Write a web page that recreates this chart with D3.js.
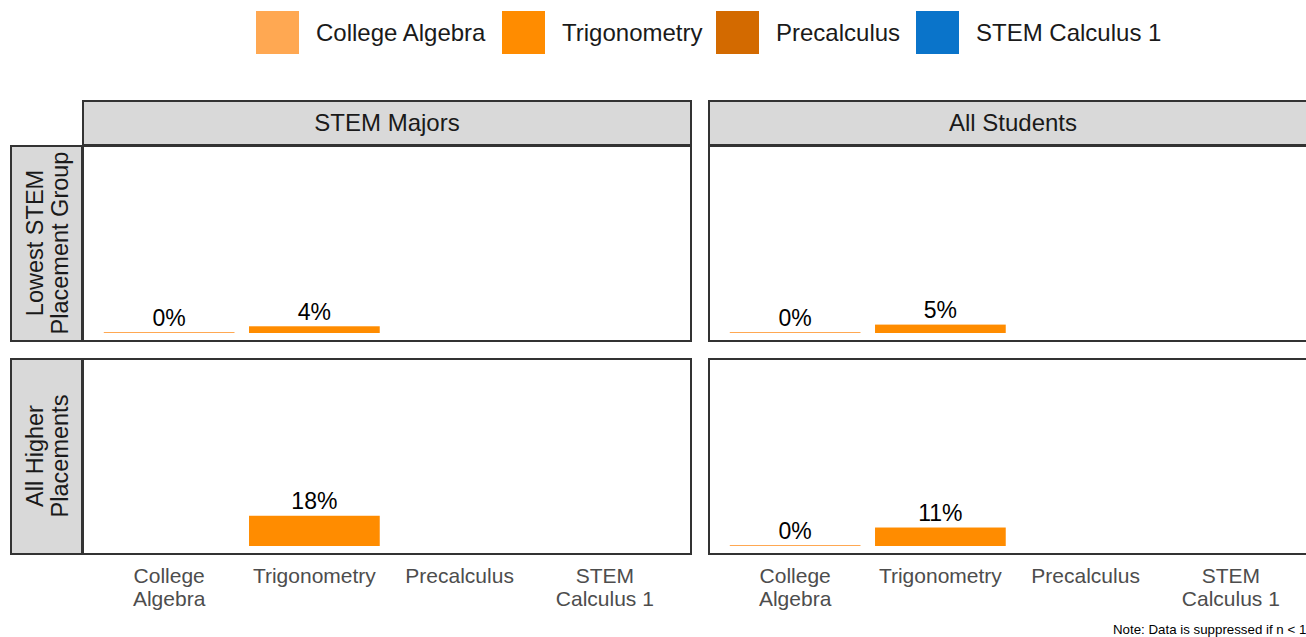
<!DOCTYPE html>
<html><head><meta charset="utf-8">
<script src="https://cdn.jsdelivr.net/npm/d3@7"></script>
<style>body{margin:0;background:#fff;overflow:hidden}svg{display:block;font-family:"Liberation Sans",Arial,sans-serif}</style>
</head><body><svg id="c" width="1306" height="637"></svg>
<script>
const courses = ["College Algebra","Trigonometry","Precalculus","STEM Calculus 1"];
const courseLabels = [["College","Algebra"],["Trigonometry"],["Precalculus"],["STEM","Calculus 1"]];
const colors = ["#FFA852","#FF8C00","#D36A00","#0A74CA"];
const columns = ["STEM Majors","All Students"];
const rows = [["Lowest STEM","Placement Group"],["All Higher","Placements"]];
// values per [row][column][course]; null = suppressed
const lowestStem = [0,4,null,null];
const lowestAll = [0,5,null,null];
const higherStem = [null,18,null,null];
const higherAll = [0,11,null,null];
const values = [[lowestStem,lowestAll],[higherStem,higherAll]];
const note = "Note: Data is suppressed if n < 10";

const svg = d3.select("#c");
const colX = [82,708], panelW = 610;
const rowY = [145,358], panelH = 196;
const stripTop = 100, stripLeft = 10;

// legend
const legX = [256,502,716,916];
const leg = svg.append("g");
courses.forEach((c,i)=>{
  leg.append("rect").attr("x",legX[i]).attr("y",11).attr("width",43).attr("height",43).attr("fill",colors[i]);
  leg.append("text").attr("x",legX[i]+60).attr("y",41).attr("font-size",24).attr("fill","#1a1a1a").text(c);
});

const x = d3.scaleBand().domain(courses).range([0,panelW]).paddingInner(0.1).paddingOuter(0.15);
const bw = x.bandwidth();
const cx = c => x(c) + bw/2;
const y = d3.scaleLinear().domain([0,100]).range([188,20]);

// column strips
columns.forEach((col,ci)=>{
  svg.append("rect").attr("x",colX[ci]+1).attr("y",stripTop+1).attr("width",panelW-2).attr("height",rowY[0]-stripTop-1)
    .attr("fill","#d9d9d9").attr("stroke","#333").attr("stroke-width",2);
  svg.append("text").attr("x",colX[ci]+panelW/2).attr("y",stripTop+31).attr("text-anchor","middle")
    .attr("font-size",24).attr("fill","#1a1a1a").text(col);
});
// row strips
rows.forEach((r,ri)=>{
  svg.append("rect").attr("x",stripLeft+1).attr("y",rowY[ri]+1).attr("width",colX[0]-stripLeft-1).attr("height",panelH-1)
    .attr("fill","#d9d9d9").attr("stroke","#333").attr("stroke-width",2);
  const t = svg.append("text").attr("transform",`translate(${(stripLeft+colX[0])/2+1},${rowY[ri]+panelH/2}) rotate(-90)`)
    .attr("text-anchor","middle").attr("font-size",23.5).attr("fill","#1a1a1a");
  r.forEach((line,li)=>t.append("tspan").attr("x",0).attr("y",(li-(r.length-1)/2)*25+8).text(line));
});

// panels
rows.forEach((r,ri)=>{
  columns.forEach((col,ci)=>{
    const g = svg.append("g").attr("transform",`translate(${colX[ci]},${rowY[ri]})`);
    g.append("rect").attr("x",1).attr("y",1).attr("width",panelW-2).attr("height",panelH-1)
      .attr("fill","#fff").attr("stroke","#333").attr("stroke-width",2);
    const vals = values[ri][ci];
    vals.forEach((v,i)=>{
      if(v===null) return;
      const c = courses[i];
      const y0 = y(0), y1 = y(v);
      const h = Math.max(y0-y1,1);
      g.append("rect").attr("x",x(c)).attr("y",y0-h).attr("width",bw).attr("height",h).attr("fill",colors[i]);
      g.append("text").attr("x",cx(c)).attr("y",y0-h-6.5).attr("text-anchor","middle")
        .attr("font-size",23).attr("fill","#000").text(v+"%");
    });
  });
});

// x axis labels
columns.forEach((col,ci)=>{
  courseLabels.forEach((lab,i)=>{
    const px = colX[ci]+cx(courses[i]);
    const t = svg.append("text").attr("x",px).attr("y",583).attr("text-anchor","middle")
      .attr("font-size",21).attr("fill","#4d4d4d");
    lab.forEach((line,li)=>t.append("tspan").attr("x",px).attr("dy",li?23:0).text(line));
  });
});

svg.append("text").attr("x",1113).attr("y",634).attr("font-size",13.3).attr("fill","#000").text(note);
</script></body></html>
